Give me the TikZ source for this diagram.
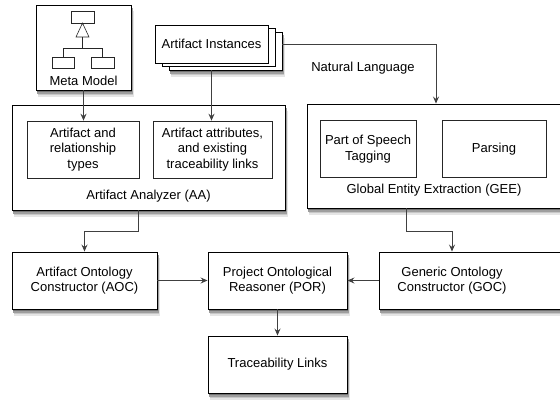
\documentclass[tikz,border=0pt]{standalone}
\usepackage{fontspec}
\setmainfont{Liberation Sans}
\usetikzlibrary{arrows.meta,shadows}
\pgfdeclarelayer{background}
\pgfsetlayers{background,main}

\begin{document}
\begin{tikzpicture} [
            x=1pt,
            y=-1pt,
            font=\fontsize{13}{15.5}\selectfont,
            box/.style = {draw=black,line width=0.9pt,fill=white,align=center,inner sep=2pt},
            part box/.style = {draw=black!85,line width=0.7pt,fill=white,align=center,inner sep=2pt,minimum height=57pt},
            flow/.style = {draw=black!75,line width=0.8pt,-{Stealth[length=7pt,width=6pt,inset=2.5pt]}},
            icon/.style = {draw=black!85,line width=0.6pt,fill=white}
        ]
        \useasboundingbox (0,0) rectangle (560,400);
        % First we draw the input boxes
        \node[box,minimum width=95pt,minimum height=85pt] (MM) at (83.5,47.5) {};
        \node (MMlabel) at (83.5,81) {Meta Model};
        \draw[icon] (71,11) rectangle (94,23);
        \draw[icon] (82.5,23) -- (76,37) -- (89,37) -- cycle;
        \draw[icon] (82.5,37) -- (82.5,48) (63,57) -- (63,48) -- (102.5,48) -- (102.5,57);
        \draw[icon] (52,57) rectangle (74,68);
        \draw[icon] (91,57) rectangle (114,68);
        \node[box,minimum width=113pt,minimum height=38pt,
              copy shadow={shadow xshift=14pt,shadow yshift=-7pt,draw=black,line width=0.9pt,fill=white},
              copy shadow={shadow xshift=7pt,shadow yshift=-3.5pt,draw=black,line width=0.9pt,fill=white}]
            (AI) at (211.5,44) {Artifact Instances};
        \node (NL) at (363,68) {Natural Language};
        % The two analysis boxes and their parts
        \node[box,minimum width=273pt,minimum height=105pt] (AA) at (148.5,157.5) {};
        \node (AAlabel) at (148.5,196) {Artifact Analyzer (AA)};
        \node[box,minimum width=258pt,minimum height=104pt] (GEE) at (436,156) {};
        \node (GEElabel) at (434,190) {Global Entity Extraction (GEE)};
        \foreach \pos/\name/\w/\txt in {
                {(83,149.5)/AArel/112/{Artifact and\\relationship\\types}},
                {(212.5,149.5)/AAattr/119/{Artifact attributes,\\and existing\\traceability links}},
                {(368,149)/POS/96/{Part of Speech\\Tagging}},
                {(494,149)/PAR/104/{Parsing}}}
            \node[part box,minimum width=\w pt] (\name) at \pos {\txt};
        % Constructors, reasoner and result
        \foreach \pos/\name/\w/\txt in {
                {(84.5,280.5)/AOC/145/{Artifact Ontology\\Constructor (AOC)}},
                {(277.5,280.5)/POR/139/{Project Ontological\\Reasoner (POR)}},
                {(277.5,364.5)/TL/139/{Traceability Links}}}
            \node[box,minimum width=\w pt,minimum height=57pt] (\name) at \pos {\txt};
        \node[box,minimum width=186pt,minimum height=57pt] (GOC) at (472,280.5) {};
        \node[align=center] (GOClabel) at (452,280.5) {Generic Ontology\\Constructor (GOC)};
        % Connect the boxes
        \draw[flow] (MM.south) -- (MM.south |- AArel.north);
        \draw[flow] ([yshift=-7pt]AI.south) -- (AI.south |- AAattr.north);
        \draw[flow] ([xshift=14pt]AI.east) -| (GEE.north);
        \draw[flow] ([xshift=-10.5pt]AA.south) -- ++(0,21) -| (AOC.north);
        \draw[flow] ([xshift=-30pt]GEE.south) -- ++(0,23) -| ([xshift=-20pt]GOC.north);
        \draw[flow] (AOC.east) -- (POR.west);
        \draw[flow] (GOC.west) -- (POR.east);
        \draw[flow] (POR.south) -- (TL.north);
        % soft shadows under the boxes
        \begin{pgfonlayer}{background}
            \foreach \dx/\dy/\tone in {2.5/6.5/10, 2/5/22, 1.5/3.5/38, 1/2/55}{
                \foreach \name in {MM, AA, GEE, AOC, POR, GOC, TL}
                    \fill[black!\tone] ([xshift=\dx pt,yshift=-\dy pt]\name.south west) rectangle ([xshift=\dx pt,yshift=-\dy pt]\name.north east);
                \fill[black!\tone] ([xshift=\dx pt+14pt,yshift=-\dy pt-7pt]AI.south west) rectangle ([xshift=\dx pt+14pt,yshift=-\dy pt-7pt]AI.north east);
            }
        \end{pgfonlayer}
    \end{tikzpicture}
\end{document}
